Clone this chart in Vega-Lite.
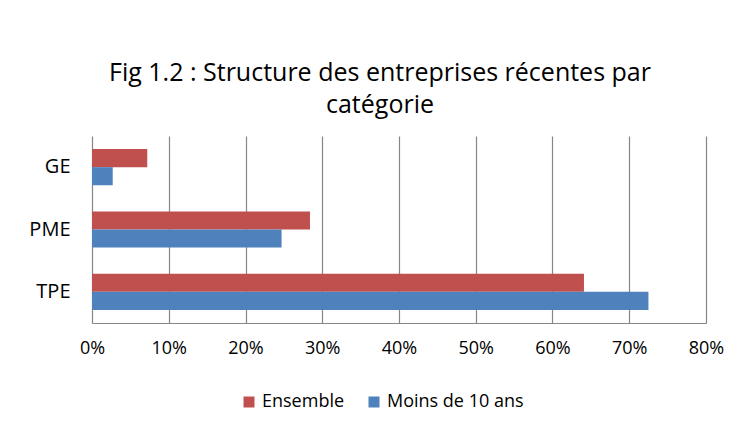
{
  "$schema": "https://vega.github.io/schema/vega-lite/v6.json",
  "width": 614,
  "height": 187,
  "autosize": {"type": "none"},
  "padding": {"left": 92, "top": 136, "right": 38, "bottom": 107},
  "background": "white",
  "title": {
    "text": ["Fig 1.2 : Structure des entreprises récentes par", "catégorie"],
    "font": "Open Sans",
    "fontSize": 25,
    "fontWeight": "normal",
    "color": "#000000",
    "lineHeight": 32,
    "offset": 18,
    "anchor": "middle",
    "dx": -19
  },
  "config": {
    "view": {"stroke": null},
    "font": "Open Sans"
  },
  "data": {
    "values": [
      {"categorie": "GE", "serie": "Ensemble", "part": 0.072},
      {"categorie": "GE", "serie": "Moins de 10 ans", "part": 0.027},
      {"categorie": "PME", "serie": "Ensemble", "part": 0.284},
      {"categorie": "PME", "serie": "Moins de 10 ans", "part": 0.247},
      {"categorie": "TPE", "serie": "Ensemble", "part": 0.641},
      {"categorie": "TPE", "serie": "Moins de 10 ans", "part": 0.725}
    ]
  },
  "mark": {"type": "bar"},
  "encoding": {
    "y": {
      "field": "categorie",
      "type": "nominal",
      "sort": ["GE", "PME", "TPE"],
      "scale": {"paddingInner": 0.42, "paddingOuter": 0.21},
      "axis": {
        "title": null,
        "labelFont": "Open Sans",
        "labelFontSize": 20,
        "labelColor": "#000000",
        "labelPadding": 22,
        "domain": false,
        "ticks": false
      }
    },
    "yOffset": {"field": "serie", "sort": ["Ensemble", "Moins de 10 ans"]},
    "x": {
      "field": "part",
      "type": "quantitative",
      "scale": {"domain": [0, 0.8], "nice": false},
      "axis": {
        "title": null,
        "format": ".0%",
        "values": [0, 0.1, 0.2, 0.3, 0.4, 0.5, 0.6, 0.7, 0.8],
        "grid": true,
        "gridColor": "#868686",
        "gridWidth": 1.2,
        "domainColor": "#868686",
        "domainWidth": 1.2,
        "ticks": false,
        "labelFlush": false,
        "labelFont": "Open Sans",
        "labelFontSize": 18,
        "labelColor": "#000000",
        "labelPadding": 16
      }
    },
    "color": {
      "field": "serie",
      "type": "nominal",
      "scale": {"domain": ["Ensemble", "Moins de 10 ans"], "range": ["#C0504D", "#4F81BD"]},
      "legend": {
        "orient": "none",
        "legendX": 148,
        "legendY": 257,
        "padding": 0,
        "direction": "horizontal",
        "title": null,
        "symbolType": "square",
        "symbolSize": 121,
        "symbolStrokeWidth": 0,
        "labelFont": "Open Sans",
        "labelFontSize": 18,
        "labelColor": "#000000",
        "labelOffset": 4,
        "columnPadding": 20
      }
    }
  }
}
